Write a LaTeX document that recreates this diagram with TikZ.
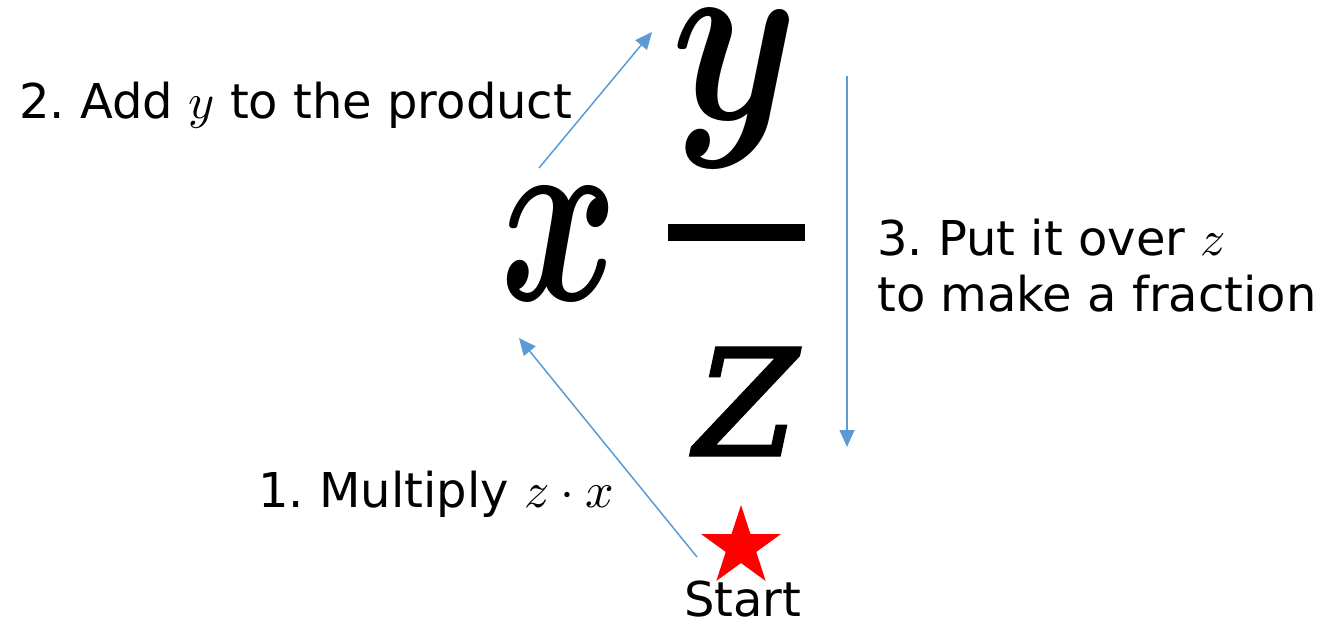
\documentclass[tikz,border=0pt]{standalone}
\usepackage{fontspec}
\setmainfont{DejaVu Sans}
\newfontfamily\zfont{DejaVu Serif}[FakeSlant=0.22,FakeBold=0.6]
\usepackage{graphicx}
\newcommand{\mm}[1]{\scalebox{5}{\fontsize{10}{12}\selectfont$#1$}}
\usetikzlibrary{arrows.meta,shapes.geometric}
\definecolor{arrowblue}{RGB}{91,155,213}
\frenchspacing
\begin{document}
\begin{tikzpicture}[x=1pt,y=-1pt,
  lbl/.style={anchor=base west,inner sep=0pt,font=\fontsize{48}{58}\selectfont},
  conn/.style={draw=arrowblue,line width=1.5pt,-{Triangle[length=17pt,width=15pt]}},
  big/.style={inner sep=0pt,anchor=center}]
\useasboundingbox (0,0) rectangle (1342,621);
% big fraction
\node[big] (bx) at (560,243.5) {\resizebox*{118pt}{113pt}{\boldmath$x$}};
\node[big] (by) at (735,89) {\resizebox*{127pt}{158pt}{\boldmath$y$}};
\node[big] (bz) at (734.5,401.5) {\resizebox*{106pt}{109pt}{\zfont z}};
\node[fill=black,inner sep=0pt,minimum width=137pt,minimum height=17pt] (bar) at (736.5,232.5) {};
% star and start
\node[star,star points=5,star point ratio=2.618,fill=red,draw=none,inner sep=0pt,minimum size=84pt] (star) at (741,547) {};
\node[lbl] (start) at (684,616) {Start};
% labels
\node[lbl] (l1) at (258,507) {1. Multiply \mm{z\cdot x}};
\node[lbl] (l2) at (19,118) {2. Add \mm{y} to the product};
\node[lbl] (l3a) at (877,255) {3. Put it over \mm{z}};
\node[lbl] (l3b) at (877,311) {to make a fraction};
% connectors
\coordinate (a1s) at (697,557);
\coordinate (a1e) at (519,338);
\coordinate (a2s) at (539,168);
\coordinate (a2e) at (652,32);
\coordinate (a3s) at (847,76);
\coordinate (a3e) at (847,447);
\draw[conn] (a1s) -- (a1e);
\draw[conn] (a2s) -- (a2e);
\draw[conn] (a3s) -- (a3e);
\end{tikzpicture}
\end{document}
